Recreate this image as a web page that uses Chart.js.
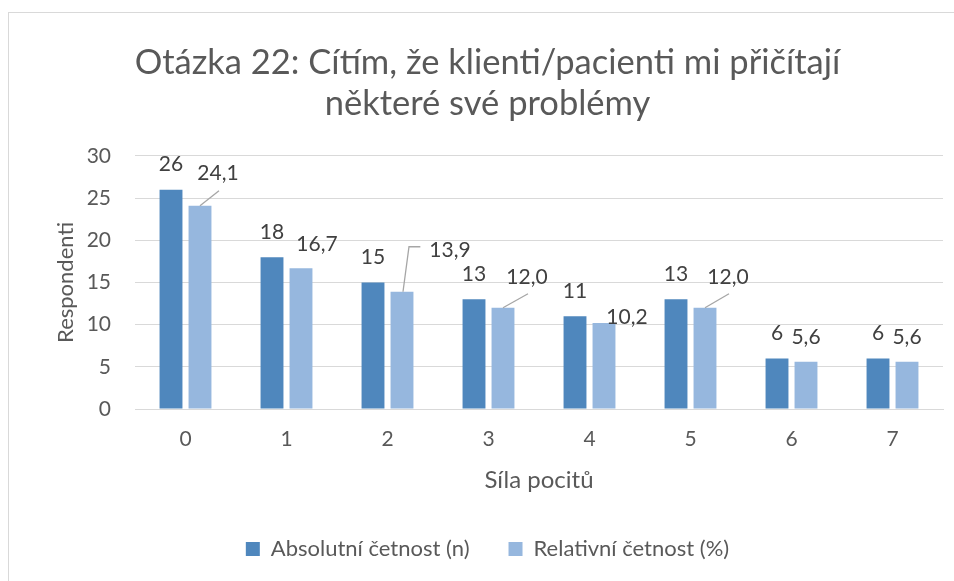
<!DOCTYPE html>
<html>
<head>
<meta charset="utf-8">
<script src="https://cdn.jsdelivr.net/npm/chart.js@4/dist/chart.umd.min.js"></script>
<style>
html,body{margin:0;padding:0;background:#fff;}
#wrap{position:relative;width:954px;height:581px;}
canvas{display:block;}
</style>
</head>
<body>
<div id="wrap"><canvas id="c" width="954" height="581"></canvas></div>
<script>
const categories = ['0','1','2','3','4','5','6','7'];
const absolute = [26, 18, 15, 13, 11, 13, 6, 6];
const relative = [24.1, 16.7, 13.9, 12.0, 10.2, 12.0, 5.6, 5.6];
const yTicks = [0, 5, 10, 15, 20, 25, 30];
const seriesNames = ['Absolutní četnost (n)', 'Relativní četnost (%)'];
const titleLines = ['Otázka 22: Cítím, že klienti/pacienti mi přičítají', 'některé své problémy'];

// label placement (pixels) for relative-series labels, and leader style
const relShift = [[18,-32,'below'],[16,-24,null],[48,-42,'left'],[24,-31,'below'],[23,-6,null],[23,-31,'below'],[0,-25,null],[0,-25,null]];

const FONT = 'Lato, "Liberation Sans", sans-serif';
const fmt = v => v.toFixed(1).replace('.', ',');

const frame = {
  id: 'frame',
  beforeDraw(chart) {
    const ctx = chart.ctx;
    ctx.save();
    ctx.fillStyle = '#fff';
    ctx.fillRect(0, 0, chart.width, chart.height);
    ctx.strokeStyle = '#d9d9d9';
    ctx.lineWidth = 1;
    ctx.strokeRect(8.5, 12.5, 1200, 1200);
    ctx.restore();
  }
};

const labels = {
  id: 'labels',
  afterDatasetsDraw(chart) {
    const ctx = chart.ctx;
    ctx.save();
    ctx.font = '21px ' + FONT;
    ctx.fillStyle = '#404040';
    ctx.textAlign = 'center';
    ctx.textBaseline = 'middle';
    chart.getDatasetMeta(0).data.forEach((bar, i) => {
      ctx.fillText(String(absolute[i]), bar.x, bar.y - 25);
    });
    chart.getDatasetMeta(1).data.forEach((bar, i) => {
      const [dx, dy, leader] = relShift[i];
      const lx = bar.x + dx, ly = bar.y + dy;
      const txt = fmt(relative[i]);
      if (leader) {
        ctx.strokeStyle = '#a6a6a6';
        ctx.lineWidth = 1.3;
        ctx.beginPath();
        if (leader === 'below') {
          ctx.moveTo(bar.x, bar.y);
          ctx.lineTo(lx + 1, ly + 17);
        } else {
          const w = ctx.measureText(txt).width;
          const left = lx - w / 2;
          ctx.moveTo(bar.x + 1, bar.y);
          ctx.lineTo(bar.x + 7, ly - 3);
          ctx.lineTo(left - 9, ly - 3);
        }
        ctx.stroke();
      }
      ctx.fillText(txt, lx, ly);
    });
    ctx.restore();
  }
};

new Chart(document.getElementById('c'), {
  type: 'bar',
  data: {
    labels: categories,
    datasets: [
      { label: seriesNames[0], data: absolute, backgroundColor: '#4f87bd', categoryPercentage: 0.574, barPercentage: 0.79 },
      { label: seriesNames[1], data: relative, backgroundColor: '#96b7de', categoryPercentage: 0.574, barPercentage: 0.79 }
    ]
  },
  options: {
    responsive: false,
    animation: false,
    devicePixelRatio: 1,
    layout: { padding: { left: 32, right: 11, top: 0, bottom: 11 } },
    plugins: {
      title: {
        display: true,
        text: titleLines,
        color: '#595959',
        font: { family: FONT, size: 34.5, weight: 'normal', lineHeight: 1.188 },
        padding: { top: 42, bottom: 32 }
      },
      legend: {
        position: 'bottom',
        labels: {
          color: '#595959',
          font: { family: FONT, size: 22 },
          boxWidth: 14, boxHeight: 14,
          padding: 39
        }
      },
      tooltip: { enabled: false }
    },
    scales: {
      x: {
        grid: { display: false, drawTicks: false },
        border: { display: true, color: '#d9d9d9' },
        ticks: { color: '#595959', font: { family: FONT, size: 21 }, padding: 18 },
        title: { display: true, text: 'Síla pocitů', color: '#595959', font: { family: FONT, size: 24 }, padding: { top: 0, bottom: 4 } },
        afterFit(s) { s.height = 90; }
      },
      y: {
        min: 0, max: 30,
        afterBuildTicks(s) { s.ticks = yTicks.map(v => ({ value: v })); },
        grid: { color: '#d9d9d9', drawTicks: false },
        border: { display: false },
        ticks: { color: '#595959', font: { family: FONT, size: 21 }, padding: 24 },
        title: { display: true, text: 'Respondenti', color: '#595959', font: { family: FONT, size: 22 }, padding: { top: 21, bottom: 0 } },
        afterFit(s) { s.width = 103; }
      }
    }
  },
  plugins: [frame, labels]
});
</script>
</body>
</html>
